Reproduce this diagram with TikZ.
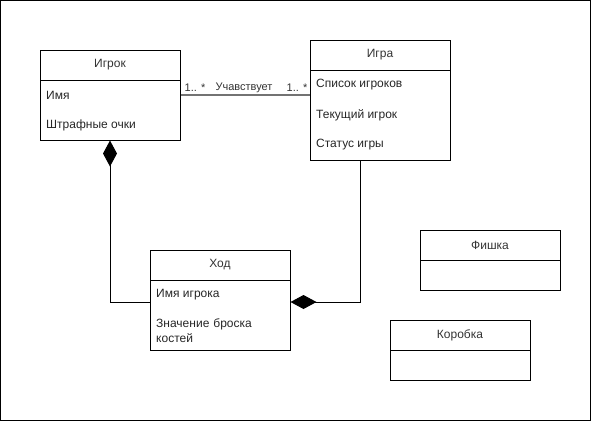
\documentclass[tikz,border=0pt]{standalone}
\usepackage{fontspec}
\setmainfont{Liberation Sans}
\usetikzlibrary{arrows.meta}
\begin{document}
\begin{tikzpicture}[x=1pt,y=-1pt,
  font=\fontsize{12}{15}\selectfont,
  cls/.style={draw, rectangle, line width=1pt, inner sep=0pt, minimum width=140pt},
  ttl/.style={anchor=center, text=black!80},
  attr/.style={anchor=west, text=black!85, inner sep=0pt, align=left},
  lbl/.style={font=\fontsize{11}{13}\selectfont, text=black!80, inner sep=0pt},
  comp/.style={line width=1pt, -{Diamond[length=26pt,width=14pt,fill=black]}},
  assoc/.style={line width=1.2pt, draw=black!55}
]
\useasboundingbox (0,0) rectangle (591,421);
\draw[line width=1pt] (0.5,0.5) rectangle (590.5,420.5);

% Igrok
\node[cls, minimum height=90pt] (igrok) at (110,95) {};
\draw[line width=1pt] (40,80) -- (180,80);
\node[ttl] (igrokT) at (110,65) {Игрок};
\node[attr] (igrokA1) at (46,95) {Имя};
\node[attr] (igrokA2) at (46,125) {Штрафные очки};

% Igra
\node[cls, minimum height=120pt] (igra) at (380,100) {};
\draw[line width=1pt] (310,70) -- (450,70);
\node[ttl] (igraT) at (380,55) {Игра};
\node[attr] (igraA1) at (316,85) {Список игроков};
\node[attr] (igraA2) at (316,115) {Текущий игрок};
\node[attr] (igraA3) at (316,145) {Статус игры};

% Hod
\node[cls, minimum height=100pt] (hod) at (220,300) {};
\draw[line width=1pt] (150,280) -- (290,280);
\node[ttl] (hodT) at (220,265) {Ход};
\node[attr] (hodA1) at (156,295) {Имя игрока};
\node[attr, text width=120pt] (hodA2) at (156,330.5) {Значение броска\\костей};

% Fishka
\node[cls, minimum height=60pt] (fishka) at (490,260) {};
\draw[line width=1pt] (420,260) -- (560,260);
\node[ttl] (fishkaT) at (490,245) {Фишка};

% Korobka
\node[cls, minimum height=60pt] (korobka) at (460,350) {};
\draw[line width=1pt] (390,350) -- (530,350);
\node[ttl] (korobkaT) at (460,335) {Коробка};

% Association
\draw[assoc] (igrok.east) -- (igrok.east -| igra.west);
\node[lbl] (m1) at (195,88) {1.. *};
\node[lbl] (asl) at (244,88) {Учавствует};
\node[lbl] (m2) at (297,88) {1.. *};

% Compositions
\coordinate (j1) at (110,302);
\draw[comp] (j1 -| hod.west) -- (j1) -- (igrok.south);
\coordinate (j2) at (360,302);
\draw[comp] (j2 |- igra.south) -- (j2) -- (j2 -| hod.east);
\end{tikzpicture}
\end{document}
